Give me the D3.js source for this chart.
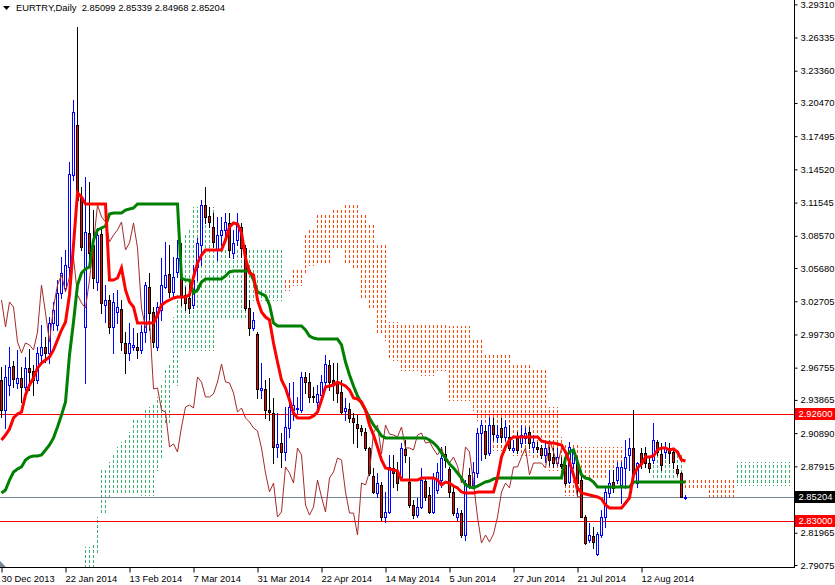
<!DOCTYPE html>
<html><head><meta charset="utf-8">
<script src="https://cdn.jsdelivr.net/npm/d3@7"></script>
<style>
body{margin:0;background:#fff}
svg{display:block}
text{font-family:'Liberation Sans',Arial,sans-serif;}
</style>
</head><body>
<svg id="c" width="835" height="585"></svg>
<script>
// ---------- DATA (EURTRY, Daily) ----------
const title = "EURTRY,Daily  2.85099 2.85339 2.84968 2.85204";
const dateLabels = ["30 Dec 2013","22 Jan 2014","13 Feb 2014","7 Mar 2014","31 Mar 2014","22 Apr 2014","14 May 2014","5 Jun 2014","27 Jun 2014","21 Jul 2014","12 Aug 2014"];
const dateTickBars = [0,16,32,48,64,80,96,112,128,144,160];
const priceTicks = [3.29310,3.26335,3.23360,3.20470,3.17495,3.14520,3.11545,3.08570,3.05680,3.02705,2.99730,2.96755,2.93865,2.90890,2.87915,2.84940,2.81965,2.79075];
const levelLines = [2.92600, 2.83000];

const open = [
2.9565,2.9296,2.9520,2.9690,2.9538,2.9583,2.9502,2.9672,2.9646,2.9565,
2.9789,2.9861,2.9807,3.0076,3.0058,3.0345,3.0389,3.0577,3.1402,3.1850,
3.1205,3.0040,3.0882,3.0775,3.0443,3.0873,3.0237,3.0282,3.0040,3.0174,
3.0201,2.9897,2.9807,2.9861,2.9861,2.9834,2.9995,3.0398,3.0174,2.9861,
3.0192,3.0398,3.0515,3.0354,3.0533,3.0488,3.0327,3.0300,3.0237,3.0577,
3.0775,3.1133,3.1035,3.0936,3.0730,3.0864,3.0909,3.0972,3.0703,3.0820,
3.0936,3.0748,3.0210,3.0031,2.9977,2.9476,2.9485,2.9296,2.9269,2.8965,
2.9001,2.8920,2.9135,2.9296,2.9305,2.9296,2.9592,2.9547,2.9422,2.9368,
2.9431,2.9547,2.9699,2.9565,2.9547,2.9458,2.9287,2.9305,2.9225,2.9171,
2.9135,2.9099,2.8956,2.8705,2.8553,2.8625,2.8337,2.8382,2.8777,2.8741,
2.8696,2.8947,2.8651,2.8445,2.8355,2.8427,2.8660,2.8535,2.8382,2.8580,
2.8669,2.8902,2.8768,2.8562,2.8337,2.8373,2.8176,2.8714,2.8625,2.8732,
2.9090,2.9108,2.8911,2.9162,2.9055,2.9135,2.9055,2.9055,2.8938,2.9055,
2.9001,2.9046,2.9099,2.8965,2.8965,2.8956,2.8893,2.8911,2.8875,2.8821,
2.8812,2.8803,2.8651,2.8821,2.8830,2.8669,2.8337,2.8132,2.8167,2.8006,
2.8176,2.8337,2.8553,2.8651,2.8669,2.8625,2.8777,2.8893,2.8956,2.8642,
2.8911,2.8911,2.8821,2.8848,2.9010,2.8902,2.8920,2.8956,2.8920,2.8768,
2.8732,2.85099];
const high = [
2.9681,2.9699,2.9861,2.9735,2.9834,2.9681,2.9771,2.9843,2.9699,2.9861,
3.0058,2.9950,3.0129,3.0264,3.0461,3.0667,3.0730,3.1518,3.2074,3.2728,
3.1294,3.1384,3.1339,3.1088,3.0927,3.0936,3.0416,3.0327,3.0345,3.0372,
3.0282,2.9995,3.0076,3.0031,2.9986,3.0058,3.0443,3.0524,3.0219,3.0264,
3.0658,3.0802,3.0775,3.0667,3.0820,3.0793,3.0398,3.0434,3.0595,3.0838,
3.1178,3.1294,3.1115,3.1061,3.1026,3.1026,3.1061,3.1061,3.0909,3.1061,
3.0972,3.0775,3.0282,3.0174,2.9995,2.9717,2.9565,2.9583,2.9404,2.9269,
2.9090,2.9323,2.9538,2.9547,2.9413,2.9637,2.9637,2.9628,2.9502,2.9520,
2.9610,2.9789,2.9744,2.9717,2.9717,2.9565,2.9404,2.9359,2.9269,2.9251,
2.9162,2.9135,2.8965,2.8777,2.8732,2.8651,2.8562,2.8893,2.8893,2.8830,
2.9001,2.9028,2.8875,2.8490,2.8508,2.8777,2.8687,2.8607,2.8732,2.8821,
2.8965,2.8974,2.8786,2.8607,2.8418,2.8400,2.8669,2.8777,2.8830,2.9135,
2.9207,2.9162,2.9233,2.9225,2.9162,2.9225,2.9207,2.9162,2.9028,2.9099,
2.9162,2.9144,2.9144,2.9072,2.9010,2.8983,2.9010,2.8965,2.8956,2.8956,
2.8875,2.8848,2.9010,2.8938,2.8875,2.8696,2.8355,2.8284,2.8248,2.8203,
2.8400,2.8607,2.8759,2.8759,2.8830,2.8830,2.9028,2.9046,2.9296,2.8830,
2.8956,2.8965,2.8875,2.9180,2.9028,2.9001,2.9010,2.9001,2.8956,2.8803,
2.8741,2.85339];
const low = [
2.9233,2.9135,2.9431,2.9502,2.9493,2.9368,2.9476,2.9476,2.9431,2.9538,
2.9717,2.9726,2.9717,3.0013,3.0013,3.0300,3.0372,3.0506,3.1357,3.1133,
3.0730,2.9538,3.0640,3.0389,3.0372,3.0165,3.0085,2.9986,2.9807,3.0076,
2.9834,2.9628,2.9744,2.9834,2.9762,2.9807,2.9906,3.0013,2.9861,2.9834,
3.0103,3.0389,3.0309,3.0309,3.0488,3.0237,3.0192,3.0165,3.0210,3.0461,
3.0595,3.0972,3.0936,3.0757,3.0640,3.0775,3.0846,3.0667,3.0658,3.0775,
3.0667,3.0192,2.9968,3.0013,2.9404,2.9404,2.9225,2.9207,2.8821,2.8875,
2.8786,2.8848,2.9055,2.9207,2.9269,2.9278,2.9449,2.9368,2.9368,2.9323,
2.9386,2.9520,2.9476,2.9386,2.9368,2.9269,2.9207,2.9189,2.9001,2.8965,
2.9072,2.8938,2.8714,2.8553,2.8517,2.8311,2.8293,2.8373,2.8607,2.8580,
2.8669,2.8830,2.8427,2.8328,2.8337,2.8418,2.8490,2.8373,2.8373,2.8553,
2.8607,2.8786,2.8517,2.8355,2.8311,2.8158,2.8132,2.8598,2.8607,2.8696,
2.8848,2.8866,2.8893,2.9028,2.9010,2.9010,2.9028,2.8938,2.8920,2.8911,
2.8965,2.9001,2.8956,2.8920,2.8920,2.8866,2.8830,2.8803,2.8786,2.8803,
2.8777,2.8625,2.8642,2.8777,2.8535,2.8337,2.8096,2.8114,2.8060,2.7997,
2.8158,2.8248,2.8517,2.8562,2.8642,2.8463,2.8598,2.8759,2.8714,2.8607,
2.8777,2.8786,2.8741,2.8821,2.8893,2.8759,2.8866,2.8821,2.8777,2.8714,
2.8517,2.84968];
const close = [
2.9296,2.9592,2.9681,2.9574,2.9583,2.9502,2.9672,2.9637,2.9565,2.9807,
2.9861,2.9807,3.0076,3.0192,3.0345,3.0524,3.0595,3.1411,3.1966,3.1178,
3.0757,3.0891,3.0703,3.0479,3.0864,3.0255,3.0282,3.0040,3.0264,3.0219,
2.9906,2.9807,2.9897,2.9879,2.9834,2.9995,3.0416,3.0165,2.9906,3.0219,
3.0416,3.0506,3.0354,3.0488,3.0658,3.0327,3.0255,3.0210,3.0461,3.0793,
3.1133,3.1026,3.0981,3.0802,3.0864,3.0909,3.0981,3.0730,3.0793,3.0972,
3.0748,3.0210,3.0031,3.0103,2.9485,2.9493,2.9296,2.9278,2.8965,2.8992,
2.8920,2.9144,2.9323,2.9341,2.9314,2.9592,2.9547,2.9413,2.9413,2.9440,
2.9547,2.9708,2.9547,2.9538,2.9449,2.9278,2.9314,2.9225,2.9189,2.9135,
2.9108,2.8956,2.8732,2.8562,2.8642,2.8337,2.8382,2.8786,2.8732,2.8642,
2.8956,2.8893,2.8445,2.8355,2.8427,2.8669,2.8517,2.8382,2.8687,2.8741,
2.8866,2.8848,2.8562,2.8373,2.8373,2.8176,2.8642,2.8625,2.8741,2.9090,
2.9162,2.8902,2.9162,2.9081,2.9072,2.9055,2.9144,2.8956,2.8956,2.8938,
2.9072,2.9090,2.9001,2.9010,2.8947,2.8893,2.8956,2.8848,2.8821,2.8875,
2.8794,2.8642,2.8965,2.8920,2.8642,2.8337,2.8105,2.8176,2.8114,2.8185,
2.8337,2.8562,2.8642,2.8598,2.8786,2.8786,2.8875,2.8956,2.8714,2.8821,
2.8821,2.8821,2.8777,2.9028,2.8920,2.8803,2.8956,2.8911,2.8830,2.8732,
2.8517,2.85204];

// Tenkan-sen (red) and Kijun-sen (green), read per bar
const tenkan = [
2.9028,2.9072,2.9126,2.9225,2.9260,2.9278,2.9431,2.9520,2.9583,2.9672,
2.9717,2.9744,2.9771,2.9834,2.9924,3.0013,3.0085,3.0327,3.0775,3.1241,
3.1205,3.1142,3.1142,3.1142,3.1142,3.1142,3.1142,3.0461,3.0461,3.0479,
3.0569,3.0372,3.0264,3.0219,3.0076,3.0076,3.0076,3.0076,3.0076,3.0147,
3.0237,3.0264,3.0282,3.0300,3.0309,3.0309,3.0309,3.0327,3.0488,3.0613,
3.0685,3.0730,3.0730,3.0730,3.0730,3.0730,3.0820,3.0936,3.0972,3.0963,
3.0882,3.0658,3.0524,3.0506,3.0282,3.0174,3.0129,3.0103,2.9897,2.9726,
2.9565,2.9493,2.9386,2.9269,2.9225,2.9225,2.9225,2.9225,2.9243,2.9278,
2.9386,2.9502,2.9511,2.9520,2.9547,2.9529,2.9511,2.9476,2.9404,2.9395,
2.9368,2.9296,2.9162,2.9072,2.8965,2.8848,2.8777,2.8768,2.8759,2.8750,
2.8669,2.8669,2.8669,2.8669,2.8669,2.8687,2.8687,2.8687,2.8687,2.8669,
2.8625,2.8651,2.8642,2.8615,2.8598,2.8562,2.8553,2.8553,2.8553,2.8562,
2.8562,2.8562,2.8562,2.8562,2.8687,2.8875,2.8965,2.9028,2.9055,2.9055,
2.9055,2.9055,2.9055,2.9055,2.9055,2.9019,2.9010,2.9001,2.9001,2.8992,
2.8983,2.8920,2.8830,2.8714,2.8598,2.8553,2.8544,2.8535,2.8526,2.8517,
2.8499,2.8445,2.8418,2.8418,2.8418,2.8418,2.8463,2.8508,2.8714,2.8777,
2.8812,2.8875,2.8875,2.8884,2.8938,2.8956,2.8956,2.8938,2.8947,2.8920,
2.8848,2.8839];
const kijun = [
2.8553,2.8580,2.8669,2.8741,2.8768,2.8786,2.8848,2.8875,2.8884,2.8884,
2.8893,2.8938,2.8983,2.9046,2.9144,2.9251,2.9368,2.9789,3.0085,3.0416,
3.0524,3.0560,3.0577,3.0820,3.0909,3.0927,3.0945,3.1052,3.1061,3.1061,
3.1061,3.1088,3.1097,3.1106,3.1142,3.1142,3.1142,3.1142,3.1142,3.1142,
3.1142,3.1142,3.1142,3.1142,3.1142,3.0479,3.0461,3.0461,3.0345,3.0372,
3.0443,3.0470,3.0470,3.0470,3.0470,3.0470,3.0497,3.0533,3.0542,3.0542,
3.0542,3.0542,3.0542,3.0461,3.0354,3.0336,3.0318,3.0237,3.0076,3.0049,
3.0049,3.0049,3.0049,3.0049,3.0049,3.0049,3.0013,2.9959,2.9941,2.9932,
2.9932,2.9932,2.9932,2.9932,2.9932,2.9879,2.9726,2.9610,2.9511,2.9422,
2.9359,2.9296,2.9225,2.9162,2.9117,2.9064,2.9046,2.9046,2.9046,2.9046,
2.9046,2.9046,2.9046,2.9046,2.9046,2.9046,2.9046,2.9028,2.9001,2.8965,
2.8911,2.8866,2.8812,2.8777,2.8732,2.8687,2.8625,2.8607,2.8598,2.8615,
2.8633,2.8651,2.8660,2.8678,2.8687,2.8687,2.8687,2.8687,2.8687,2.8687,
2.8687,2.8687,2.8687,2.8687,2.8687,2.8687,2.8687,2.8687,2.8687,2.8687,
2.8687,2.8866,2.8920,2.8938,2.8830,2.8714,2.8687,2.8678,2.8651,2.8607,
2.8607,2.8607,2.8607,2.8607,2.8607,2.8607,2.8607,2.8607,2.8651,2.8651,
2.8651,2.8651,2.8651,2.8651,2.8651,2.8651,2.8651,2.8651,2.8651,2.8651,
2.8651,2.8651];

// Senkou Span A / B as plotted (already shifted 26 bars forward); null = off chart
const N = null;
const spanA = [
N,N,N,N,N,N,N,N,N,N,N,N,N,N,N,N,N,N,N,N,N,
2.8069,2.8069,2.8087,2.8337,2.8777,2.8777,2.8830,2.8893,2.8965,
2.9010,2.9028,2.9099,2.9225,2.9225,2.9225,2.9314,2.9323,2.9359,2.9413,
2.9538,2.9672,2.9717,3.0129,3.0345,3.0730,3.0882,3.0909,3.1115,3.1115,
3.1115,3.1115,3.1115,3.1115,3.0730,3.0730,3.0730,3.0730,3.0730,3.0730,
3.0730,3.0730,3.0730,3.0730,3.0730,3.0730,3.0730,3.0730,3.0730,3.0730,
3.0730,3.0372,3.0372,3.0416,3.0416,3.0416,3.0524,3.0595,3.0595,3.0613,
3.0613,3.0613,3.0613,3.0748,3.0748,3.0748,3.0613,3.0613,3.0569,3.0569,
3.0300,3.0300,3.0210,3.0210,2.9995,2.9995,2.9924,2.9771,2.9744,2.9744,
2.9655,2.9655,2.9655,2.9655,2.9655,2.9610,2.9610,2.9610,2.9610,2.9655,
2.9655,2.9655,2.9386,2.9386,2.9386,2.9386,2.9386,2.9386,2.9296,2.9207,
2.9207,2.8938,2.8938,2.8938,2.8938,2.8938,2.8938,2.8938,2.8893,2.8893,
2.8893,2.8893,2.8893,2.8866,2.8866,2.8866,2.8866,2.8759,2.8759,2.8759,
2.8732,2.8535,2.8535,2.8535,2.8535,2.8696,2.8696,2.8696,2.8696,2.8696,
2.8696,2.8696,2.8696,2.8696,2.8696,2.8696,2.8759,2.8759,2.8777,2.8777,
2.8777,2.8777,2.8777,2.8920,2.8920,2.8920,2.8920,2.8920,2.8920,2.8920,
2.8893,2.8598,2.8598,2.8598,2.8598,2.8598,2.8598,2.8517,2.8517,2.8517,
2.8517,2.8517,2.8517,2.8517,2.8830,2.8830,2.8830,2.8830,2.8830,2.8830,
2.8830,2.8830,2.8830,2.8830,2.8830,2.8830,2.8830,2.8830];
const spanB = [
N,N,N,N,N,N,N,N,N,N,N,N,N,N,N,N,N,N,N,N,N,
2.7700,2.7700,2.7700,2.8015,2.8373,2.8382,2.8517,2.8553,2.8553,
2.8562,2.8562,2.8562,2.8553,2.8553,2.8535,2.8535,2.8535,2.8535,2.8759,
2.8866,2.9180,2.9180,2.9538,2.9520,2.9861,2.9834,2.9834,2.9834,2.9834,
2.9834,2.9834,2.9834,2.9834,3.0121,3.0121,3.0121,3.0121,3.0121,3.0121,
3.0121,3.0121,3.0282,3.0282,3.0282,3.0282,3.0282,3.0282,3.0282,3.0282,
3.0282,3.0461,3.0461,3.0551,3.0551,3.0551,3.0864,3.0927,3.0927,3.1061,
3.1061,3.1061,3.1061,3.1088,3.1088,3.1088,3.1133,3.1133,3.1133,3.1133,
3.1061,3.1061,3.0972,3.0972,3.0775,3.0775,3.0775,3.0085,3.0085,3.0085,
3.0058,3.0058,3.0058,3.0058,3.0058,3.0058,3.0058,3.0058,3.0058,3.0058,
3.0058,3.0058,3.0049,3.0049,3.0049,3.0049,3.0049,3.0049,2.9924,2.9924,
2.9924,2.9789,2.9789,2.9789,2.9789,2.9789,2.9789,2.9789,2.9699,2.9699,
2.9699,2.9699,2.9699,2.9655,2.9655,2.9655,2.9655,2.9323,2.9323,2.9323,
2.9055,2.8983,2.8983,2.8983,2.8983,2.8965,2.8965,2.8965,2.8965,2.8965,
2.8965,2.8965,2.8965,2.8965,2.8965,2.8965,2.8920,2.8920,2.8830,2.8830,
2.8830,2.8830,2.8830,2.8696,2.8696,2.8696,2.8696,2.8696,2.8696,2.8696,
2.8714,2.8687,2.8687,2.8687,2.8687,2.8687,2.8687,2.8669,2.8669,2.8669,
2.8669,2.8669,2.8669,2.8669,2.8625,2.8625,2.8625,2.8625,2.8625,2.8625,
2.8625,2.8625,2.8625,2.8625,2.8625,2.8625,2.8625,2.8625];
const chikouShift = 26;

// ---------- DRAW ----------
const svg = d3.select('#c');
const plotW = 794, plotH = 567;
const x = d3.scaleLinear().domain([0, 198]).range([1.5, 793.5]);
const y = d3.scaleLinear().domain([2.79075, 3.29310]).range([565, 4.3]);
const py = v => Math.round(y(v)) + 0.5;

svg.append('defs').append('clipPath').attr('id','clip')
  .append('rect').attr('x',0).attr('y',0).attr('width',plotW).attr('height',plotH);
const plot = svg.append('g').attr('clip-path','url(#clip)');

// cloud: dotted histogram between span A and span B (3px dash / 2px gap)
const cloudDashes = [];
d3.range(spanA.length).forEach(i => {
  if (spanA[i] == null || spanB[i] == null) return;
  const top = Math.round(Math.min(y(spanA[i]), y(spanB[i])));
  const bot = Math.round(Math.max(y(spanA[i]), y(spanB[i])));
  const bullCloud = spanA[i] >= spanB[i];
  for (let k = Math.floor(top / 5) * 5; k <= bot; k += 5) {
    const s = Math.max(k, top), e = Math.min(k + 3, bot + 1);
    if (e > s) cloudDashes.push({i, s, e, bullCloud});
  }
});
plot.append('g').attr('shape-rendering','crispEdges').selectAll('rect').data(cloudDashes).join('rect')
  .attr('x', d => Math.round(x(d.i) - 0.5)).attr('width', 1)
  .attr('y', d => d.s).attr('height', d => d.e - d.s)
  .attr('fill', d => d.bullCloud ? 'rgb(60,179,113)' : 'rgb(255,69,0)');

// horizontal level lines
plot.append('g').selectAll('line').data(levelLines).join('line')
  .attr('x1',0).attr('x2',plotW).attr('y1',d=>py(d)).attr('y2',d=>py(d))
  .style('stroke','#FF0000').attr('stroke-width',1);
const bid = close[close.length-1];
plot.append('line').attr('x1',0).attr('x2',plotW).attr('y1',py(bid)).attr('y2',py(bid))
  .style('stroke','#778899').attr('stroke-width',1);

// candles
const idx = d3.range(close.length);
const bull = i => close[i] >= open[i];
const cg = plot.append('g').attr('shape-rendering','crispEdges');
cg.selectAll('line.w').data(idx).join('line').attr('class','w')
  .attr('x1', i => x(i)).attr('x2', i => x(i))
  .attr('y1', i => Math.round(y(high[i]))).attr('y2', i => Math.round(y(low[i]))+1)
  .style('stroke', i => bull(i) ? '#0000FF' : '#000000').attr('stroke-width',1);
cg.selectAll('rect.b').data(idx).join('rect').attr('class','b')
  .attr('x', i => x(i) - 1)
  .attr('y', i => py(Math.max(open[i], close[i])))
  .attr('width', 2)
  .attr('height', i => Math.max(0, Math.round(y(Math.min(open[i],close[i]))) - Math.round(y(Math.max(open[i],close[i])))))
  .style('fill', i => bull(i) ? '#FFFFFF' : '#FF0000')
  .style('stroke', i => bull(i) ? '#0000FF' : '#000000').attr('stroke-width',1);

// ichimoku lines
const lineGen = d3.line().x(d => x(d[0])).y(d => y(d[1]));
plot.append('path').datum(idx.filter(i => i + chikouShift < close.length).map(i => [i, close[i + chikouShift]]))
  .attr('d', lineGen).attr('fill','none').style('stroke','#A52A2A').attr('stroke-width',1);
plot.append('path').datum(kijun.map((v,i)=>[i,v]))
  .attr('d', lineGen).attr('fill','none').style('stroke','#008000').attr('stroke-width',3);
plot.append('path').datum(tenkan.map((v,i)=>[i,v]))
  .attr('d', lineGen).attr('fill','none').style('stroke','#FF0000').attr('stroke-width',3);

// shift marker
svg.append('path').attr('d','M0,561L0,567L6,567Z').attr('fill','#778899');

// axes frame
svg.append('line').attr('x1',794.5).attr('x2',794.5).attr('y1',0).attr('y2',568).style('stroke','#000');
svg.append('line').attr('x1',0).attr('x2',795).attr('y1',567.5).attr('y2',567.5).style('stroke','#000');

// right price axis (label hidden under the bid box is not printed)
const bidY = y(close[close.length-1]);
const ay = svg.append('g').attr('transform','translate(794.5,0)')
  .call(d3.axisRight(y).tickValues(priceTicks).tickSize(3).tickPadding(3)
    .tickFormat(d => Math.abs(y(d) - bidY) < 9 ? '' : d3.format('.5f')(d)));
ay.select('.domain').remove();
ay.selectAll('text').attr('font-size','9.4px').style('fill','#000').attr('font-family',"'Liberation Sans',Arial,sans-serif");
ay.selectAll('line').style('stroke','#000');

// bottom date axis
const ax = svg.append('g').attr('transform','translate(0,567.5)')
  .call(d3.axisBottom(x).tickValues(dateTickBars).tickSize(5).tickPadding(3).tickFormat((d,i)=>dateLabels[i]));
ax.select('.domain').remove();
ax.selectAll('text').attr('text-anchor','start').attr('dx','-0.5').attr('font-size','9.4px').style('fill','#000').attr('font-family',"'Liberation Sans',Arial,sans-serif");
ax.selectAll('line').style('stroke','#000');

// price labels for levels and bid
const boxes = levelLines.map(v => ({v, bg:'#FF0000'})).concat([{v: close[close.length-1], bg:'#000000'}]);
const bx = svg.append('g').selectAll('g').data(boxes).join('g');
bx.append('rect').attr('x',795).attr('y',d=>Math.round(y(d.v))-6).attr('width',40).attr('height',12).style('fill',d=>d.bg);
bx.append('text').attr('x',798.5).attr('y',d=>y(d.v)).attr('dy','0.35em').attr('font-size','9.4px').style('fill','#fff')
  .text(d=>d3.format('.5f')(d.v));

// title
svg.append('path').attr('d','M3,6L10,6L6.5,10Z').attr('fill','#000');
svg.append('text').attr('x',16).attr('y',11).attr('font-size','9.4px').style('fill','#000')
  .style('white-space','pre').text(title);
</script>
</body></html>
